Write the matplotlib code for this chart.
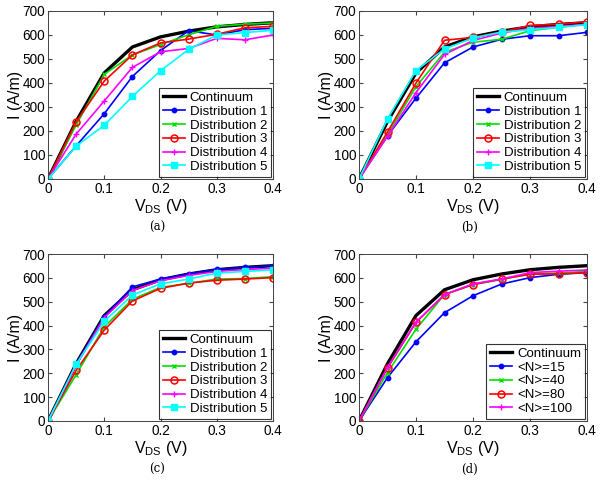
import matplotlib
matplotlib.use("Agg")
import matplotlib.pyplot as plt

plt.rcParams['font.family'] = ['Liberation Sans', 'DejaVu Sans']

vds = [0, 0.05, 0.1, 0.15, 0.2, 0.25, 0.3, 0.35, 0.4]
continuum = [0, 240, 442, 550, 592, 616, 634, 644, 651]

# panel (a)
a_d1 = [0, 138, 272, 427, 535, 618, 600, 622, 628]
a_d2 = [0, 225, 436, 517, 560, 601, 636, 645, 650]
a_d3 = [0, 238, 408, 517, 567, 583, 603, 630, 636]
a_d4 = [0, 187, 325, 465, 530, 544, 586, 580, 600]
a_d5 = [0, 137, 224, 344, 451, 540, 600, 610, 620]

# panel (b)
b_d1 = [0, 180, 337, 484, 550, 582, 597, 597, 611]
b_d2 = [0, 185, 385, 528, 570, 582, 618, 632, 645]
b_d3 = [0, 196, 400, 578, 590, 612, 640, 645, 655]
b_d4 = [0, 178, 360, 519, 577, 608, 628, 635, 645]
b_d5 = [0, 250, 452, 542, 588, 612, 622, 632, 643]

# panel (c)
c_d1 = [0, 240, 438, 562, 595, 617, 636, 644, 651]
c_d2 = [0, 194, 395, 510, 560, 577, 595, 597, 605]
c_d3 = [0, 212, 381, 503, 556, 578, 590, 595, 601]
c_d4 = [0, 235, 433, 547, 588, 610, 627, 635, 640]
c_d5 = [0, 237, 418, 528, 575, 595, 620, 627, 633]

# panel (d)
d_n15 = [0, 182, 332, 454, 525, 574, 601, 615, 622]
d_n40 = [0, 203, 385, 530, 572, 593, 617, 620, 627]
d_n80 = [0, 222, 413, 530, 572, 595, 615, 617, 622]
d_n100 = [0, 225, 415, 530, 575, 595, 622, 628, 633]

dist_labels = ['Distribution 1', 'Distribution 2', 'Distribution 3',
               'Distribution 4', 'Distribution 5']
n_labels = ['<N>=15', '<N>=40', '<N>=80', '<N>=100']
captions = ['(a)', '(b)', '(c)', '(d)']

styles = [
    dict(color='#0000ff', marker='o', markersize=3.2),
    dict(color='#00e000', marker='x', markersize=3.5, markeredgewidth=1.0),
    dict(color='#ff0000', marker='o', markersize=5, markerfacecolor='none', markeredgewidth=1.1),
    dict(color='#ff00ff', marker='+', markersize=5, markeredgewidth=1.0),
    dict(color='#00ffff', marker='s', markersize=4),
]

fig = plt.figure(figsize=(6.0, 4.82), dpi=100)
W, H = 600.0, 482.0
boxes = [(48, 11, 273, 179), (359, 11, 587, 179),
         (48, 254, 273, 421), (359, 254, 587, 421)]
panels = [
    list(zip(dist_labels, [a_d1, a_d2, a_d3, a_d4, a_d5])),
    list(zip(dist_labels, [b_d1, b_d2, b_d3, b_d4, b_d5])),
    list(zip(dist_labels, [c_d1, c_d2, c_d3, c_d4, c_d5])),
    list(zip(n_labels, [d_n15, d_n40, d_n80, d_n100])),
]

for i, (box, series) in enumerate(zip(boxes, panels)):
    x0, y0, x1, y1 = box
    ax = fig.add_axes([x0 / W, 1 - y1 / H, (x1 - x0) / W, (y1 - y0) / H])
    ax.plot(vds, continuum, color='k', lw=2.4, label='Continuum')
    for (lab, vals), st in zip(series, styles):
        ax.plot(vds, vals, lw=1.2, label=lab, **st)
    ax.set_xlim(0, 0.4)
    ax.set_ylim(0, 700)
    ax.set_xticks([0, 0.1, 0.2, 0.3, 0.4])
    ax.set_xticklabels(['0', '0.1', '0.2', '0.3', '0.4'])
    ax.set_yticks(range(0, 701, 100))
    ax.tick_params(direction='in', top=True, right=True, length=3,
                   labelsize=9.8, pad=2, color='#444444')
    for sp in ax.spines.values():
        sp.set_color('#444444')
        sp.set_linewidth(0.7)
    ax.set_xlabel(r'V$_{\mathregular{DS}}$ (V)', fontsize=11.5, labelpad=1)
    ax.set_ylabel('I (A/m)', fontsize=11.5, labelpad=0)
    leg = ax.legend(loc='lower right', fontsize=9.5, frameon=True, fancybox=False,
                    edgecolor='k', borderaxespad=0.15, labelspacing=0.12,
                    handlelength=1.7, handletextpad=0.35, borderpad=0.3)
    leg.get_frame().set_linewidth(0.8)
    cx = (x0 + x1) / 2 - 3
    cy = y1 + 48
    fig.text(cx / W, 1 - cy / H, captions[i], ha='center', va='center',
             fontsize=8.5, family='DejaVu Serif')

fig.savefig('out.png', dpi=100)
